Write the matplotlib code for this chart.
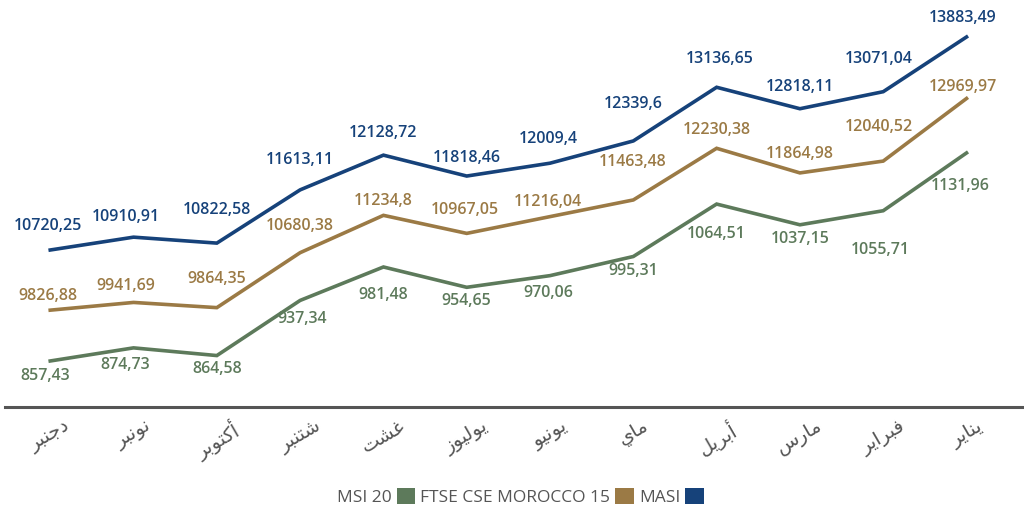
import matplotlib
matplotlib.use("Agg")
import matplotlib.pyplot as plt
from matplotlib.patches import Patch

# ---------------- data ----------------
months = ["دجنبر", "نونبر", "أكتوبر", "شتنبر", "غشت", "يوليوز",
          "يونيو", "ماي", "أبريل", "مارس", "فبراير", "يناير"]
masi = [10720.25, 10910.91, 10822.58, 11613.11, 12128.72, 11818.46,
        12009.4, 12339.6, 13136.65, 12818.11, 13071.04, 13883.49]
ftse = [9826.88, 9941.69, 9864.35, 10680.38, 11234.8, 10967.05,
        11216.04, 11463.48, 12230.38, 11864.98, 12040.52, 12969.97]
msi20 = [857.43, 874.73, 864.58, 937.34, 981.48, 954.65,
         970.06, 995.31, 1064.51, 1037.15, 1055.71, 1131.96]
series_names = ["MASI", "FTSE CSE MOROCCO 15", "MSI 20"]

# ---------------- styling ----------------
C_MASI = "#16427a"
C_FTSE = "#9b7a45"
C_MSI = "#5d7a5b"
GRAY = "#555555"

# label offsets (pixels: dx, dy upward positive)
off_masi = [(-2, 24), (-8, 20), (0, 33), (0, 30), (0, 22), (0, 18),
            (-2, 24), (0, 37), (3, 28), (0, 22), (-4, 33), (-4, 19)]
off_ftse = [(-2, 14), (-8, 16), (0, 29), (0, 27), (0, 14), (-2, 23),
            (-2, 15), (-1, 38), (0, 18), (0, 19), (-4, 34), (-4, 11)]
off_msi = [(-5, -15), (-8, -17), (0, -13), (2, -19), (0, -28), (0, -14),
           (-2, -17), (0, -15), (0, -30), (0, -14), (-3, -39), (-6, -33)]

# ---------------- Arabic shaping (minimal) ----------------
FORMS = {
    'ا': (0xFE8D, 0xFE8E, None, None),
    'أ': (0xFE83, 0xFE84, None, None),
    'د': (0xFEA9, 0xFEAA, None, None),
    'ر': (0xFEAD, 0xFEAE, None, None),
    'ز': (0xFEAF, 0xFEB0, None, None),
    'و': (0xFEED, 0xFEEE, None, None),
    'ب': (0xFE8F, 0xFE90, 0xFE91, 0xFE92),
    'ت': (0xFE95, 0xFE96, 0xFE97, 0xFE98),
    'ج': (0xFE9D, 0xFE9E, 0xFE9F, 0xFEA0),
    'س': (0xFEB1, 0xFEB2, 0xFEB3, 0xFEB4),
    'ش': (0xFEB5, 0xFEB6, 0xFEB7, 0xFEB8),
    'غ': (0xFECD, 0xFECE, 0xFECF, 0xFED0),
    'ف': (0xFED1, 0xFED2, 0xFED3, 0xFED4),
    'ك': (0xFED9, 0xFEDA, 0xFEDB, 0xFEDC),
    'ل': (0xFEDD, 0xFEDE, 0xFEDF, 0xFEE0),
    'م': (0xFEE1, 0xFEE2, 0xFEE3, 0xFEE4),
    'ن': (0xFEE5, 0xFEE6, 0xFEE7, 0xFEE8),
    'ي': (0xFEF1, 0xFEF2, 0xFEF3, 0xFEF4),
}


def shape(word):
    out = []
    n = len(word)
    for i, ch in enumerate(word):
        f = FORMS.get(ch)
        if f is None:
            out.append(ch)
            continue
        prev = word[i - 1] if i > 0 else None
        nxt = word[i + 1] if i < n - 1 else None
        join_prev = prev in FORMS and FORMS[prev][2] is not None
        join_next = nxt in FORMS and f[2] is not None
        if join_prev and join_next:
            cp = f[3]
        elif join_prev:
            cp = f[1]
        elif join_next:
            cp = f[2]
        else:
            cp = f[0]
        out.append(chr(cp))
    return "".join(reversed(out))


def fmt(v):
    return str(v).replace(".", ",")


# ---------------- figure ----------------
fig = plt.figure(figsize=(10.24, 5.11), dpi=100)
H = 511.0
ax = fig.add_axes([5 / 1024, (H - 407) / H, 1 - 5 / 1024, (407 - 10) / H])
ax2 = ax.twinx()

x = list(range(len(months)))
ax.plot(x, masi, color=C_MASI, lw=2.6, solid_joinstyle="miter")
ax.plot(x, ftse, color=C_FTSE, lw=2.6, solid_joinstyle="miter")
ax2.plot(x, msi20, color=C_MSI, lw=2.6, solid_joinstyle="miter")

ax.set_xlim(-0.543, 11.69)
ax.set_ylim(8389, 14284)
ax2.set_ylim(796.7, 1320.6)

lab_kw = dict(fontsize=11.5, fontweight="semibold", family="Open Sans",
              ha="center", va="center", textcoords="offset points")
for xi, v, (dx, dy) in zip(x, masi, off_masi):
    ax.annotate(fmt(v), (xi, v), xytext=(dx * 0.72, dy * 0.72), color=C_MASI, **lab_kw)
for xi, v, (dx, dy) in zip(x, ftse, off_ftse):
    ax.annotate(fmt(v), (xi, v), xytext=(dx * 0.72, dy * 0.72), color=C_FTSE, **lab_kw)
for xi, v, (dx, dy) in zip(x, msi20, off_msi):
    ax2.annotate(fmt(v), (xi, v), xytext=(dx * 0.72, dy * 0.72), color=C_MSI, **lab_kw)

for a in (ax, ax2):
    for s in ("top", "right", "left"):
        a.spines[s].set_visible(False)
    a.set_yticks([])
ax2.spines["bottom"].set_visible(False)
ax.spines["bottom"].set_color(GRAY)
ax.spines["bottom"].set_linewidth(2.2)

ax.set_xticks(x)
ax.set_xticklabels([shape(m) for m in months], rotation=30, ha="center",
                   fontsize=14, color=GRAY, family="DejaVu Sans")
ax.tick_params(axis="x", length=0, pad=7)

handles = [Patch(facecolor=C_MSI, edgecolor="none"),
           Patch(facecolor=C_FTSE, edgecolor="none"),
           Patch(facecolor=C_MASI, edgecolor="none")]
labels = [series_names[2], series_names[1], series_names[0]]
fig.legend(handles, labels, ncol=3, markerfirst=False, loc="center",
           bbox_to_anchor=(0.508, 0.028), frameon=False,
           prop={"family": "Open Sans", "size": 12.5},
           labelcolor=GRAY, handlelength=1.05, handleheight=1.05,
           handletextpad=0.3, columnspacing=0.3, borderaxespad=0)

fig.savefig("out.png", dpi=100)
